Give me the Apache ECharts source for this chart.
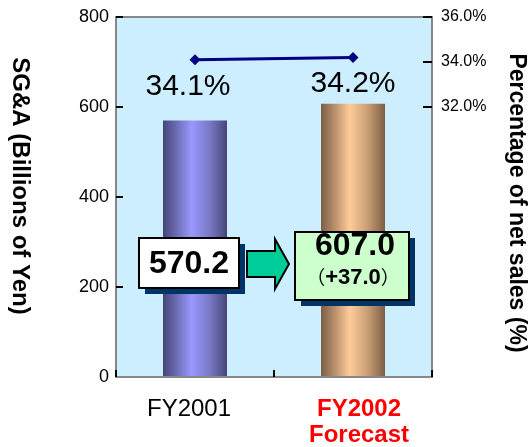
<!DOCTYPE html>
<html>
<head>
<meta charset="utf-8">
<script src="https://cdn.jsdelivr.net/npm/echarts@6/dist/echarts.min.js"></script>
<style>
html, body { margin: 0; padding: 0; background: #fff; }
#chart { width: 528px; height: 447px; }
</style>
</head>
<body>
<div id="chart"></div>
<script>
var categories = ['FY2001', 'FY2002'];
var sgaValues = [570.2, 607.0];
var pctValues = [34.1, 34.2];
var changeValues = [37.0];
var leftTicks = [0, 200, 400, 600, 800];
var rightTicks = [32, 34, 36];

var FONT = '"Liberation Sans", Arial, sans-serif';
var chart = echarts.init(document.getElementById('chart'));

var barColors = [
	new echarts.graphic.LinearGradient(0, 0, 1, 0, [
		{ offset: 0, color: '#45457a' },
		{ offset: 0.2, color: '#6a6ab0' },
		{ offset: 0.45, color: '#9999ff' },
		{ offset: 0.75, color: '#7676c0' },
		{ offset: 1, color: '#45457a' }
	]),
	new echarts.graphic.LinearGradient(0, 0, 1, 0, [
		{ offset: 0, color: '#7a5e45' },
		{ offset: 0.2, color: '#b48c68' },
		{ offset: 0.45, color: '#ffcc99' },
		{ offset: 0.75, color: '#c49a72' },
		{ offset: 1, color: '#7a5e45' }
	])
];

function box(x, y, w, h, fill) {
	return [{
		type: 'rect',
		shape: { x: x + 6, y: y + 6, width: w, height: h },
		style: { fill: '#003366' },
		z: 9
	}, {
		type: 'rect',
		shape: { x: x, y: y, width: w, height: h },
		style: { fill: fill, stroke: '#000', lineWidth: 2 },
		z: 10
	}];
}

var graphics = [].concat(
	box(139, 238, 100, 50, '#ffffff'),
	box(295, 232, 114, 68, '#ccffcc'),
	[{
		type: 'text',
		x: 189, y: 264,
		style: { text: sgaValues[0].toFixed(1), font: 'bold 32px ' + FONT, fill: '#000', align: 'center', verticalAlign: 'middle' },
		z: 11
	}, {
		type: 'polygon',
		shape: { points: [[247, 251], [275, 251], [275, 239], [289, 264], [275, 289], [275, 277], [247, 277]] },
		style: { fill: '#00cc99', stroke: '#000', lineWidth: 2 },
		z: 10
	}, {
		type: 'text',
		x: 355, y: 246,
		style: { text: sgaValues[1].toFixed(1), font: 'bold 32px ' + FONT, fill: '#000', align: 'center', verticalAlign: 'middle' },
		z: 11
	}, {
		type: 'text',
		x: 353, y: 278,
		style: {
			text: '{p|（}{n|+' + changeValues[0].toFixed(1) + '}{p|）}',
			align: 'center', verticalAlign: 'middle',
			rich: {
				p: { fontSize: 19, fontFamily: '"Noto Sans CJK JP"', fill: '#000' },
				n: { fontSize: 22, fontWeight: 'bold', fontFamily: FONT, fill: '#000' }
			}
		},
		z: 11
	}]
);

var option = {
	animation: false,
	textStyle: { fontFamily: FONT },
	grid: {
		left: 116, right: 96, top: 17, bottom: 70,
		outerBoundsMode: 'none',
		containLabel: false,
		show: true,
		backgroundColor: '#cceeff',
		borderColor: '#888888',
		borderWidth: 2
	},
	xAxis: {
		type: 'category',
		data: categories,
		boundaryGap: true,
		axisLine: { show: true, lineStyle: { color: '#888888', width: 2 } },
		axisTick: { show: true, interval: 0, alignWithLabel: false, inside: true, length: 7, lineStyle: { color: '#000', width: 2 } },
		axisLabel: {
			margin: 19,
			interval: 0,
			formatter: function (v, i) {
				return i === 0 ? '{a|' + v + '}' : '{b|' + v + '}\n{b|Forecast}';
			},
			rich: {
				a: { fontSize: 24, color: '#000', fontFamily: FONT, lineHeight: 26, padding: [0, 12, 0, 0] },
				b: { fontSize: 24, color: '#ff0000', fontWeight: 'bold', fontFamily: FONT, lineHeight: 26, padding: [0, 0, 0, 12] }
			}
		},
		z: 5
	},
	yAxis: [{
		type: 'value',
		min: 0, max: 800, interval: 200,
		name: 'SG&A (Billions of Yen)',
		nameLocation: 'middle',
		nameRotate: -90,
		nameGap: 84,
		nameTextStyle: { fontSize: 24, fontWeight: 'bold', color: '#000', fontFamily: FONT, padding: [0, 22, 0, 0] },
		axisLine: { show: true, lineStyle: { color: '#888888', width: 2 } },
		axisTick: { show: true, inside: true, length: 7, lineStyle: { color: '#000', width: 2 } },
		axisLabel: {
			fontSize: 18, color: '#000', margin: 7,
			formatter: function (v) { return leftTicks.indexOf(v) >= 0 ? String(v) : ''; }
		},
		splitLine: { show: false }
	}, {
		type: 'value',
		min: 20, max: 36, interval: 2,
		position: 'right',
		name: 'Percentage of net sales (%)',
		nameLocation: 'middle',
		nameRotate: -90,
		nameGap: 73,
		nameTextStyle: { fontSize: 23, fontWeight: 'bold', color: '#000', fontFamily: FONT, padding: [0, 0, 0, 12] },
		axisLine: { show: true, lineStyle: { color: '#888888', width: 2 } },
		axisTick: { show: true, inside: true, length: 9, customValues: rightTicks, lineStyle: { color: '#000', width: 2 } },
		axisLabel: {
			fontSize: 16, color: '#000', margin: 9,
			customValues: rightTicks,
			formatter: function (v) { return rightTicks.indexOf(v) >= 0 ? v.toFixed(1) + '%' : ''; }
		},
		splitLine: { show: false }
	}],
	series: [{
		type: 'bar',
		data: sgaValues.map(function (v, i) {
			return { value: v, itemStyle: { color: barColors[i] } };
		}),
		barWidth: 64,
		yAxisIndex: 0,
		z: 2
	}, {
		type: 'line',
		data: pctValues.map(function (v, i) {
			return { value: v, label: { offset: [i === 0 ? -7 : 0, 0] } };
		}),
		yAxisIndex: 1,
		symbol: 'diamond',
		symbolSize: 11,
		lineStyle: { color: '#000080', width: 3 },
		itemStyle: { color: '#000080' },
		label: {
			show: true,
			position: 'bottom',
			distance: 6,
			fontSize: 30,
			color: '#000',
			fontFamily: FONT,
			formatter: function (p) { return p.value.toFixed(1) + '%'; }
		},
		z: 3
	}],
	graphic: graphics
};

chart.setOption(option);
</script>
</body>
</html>
